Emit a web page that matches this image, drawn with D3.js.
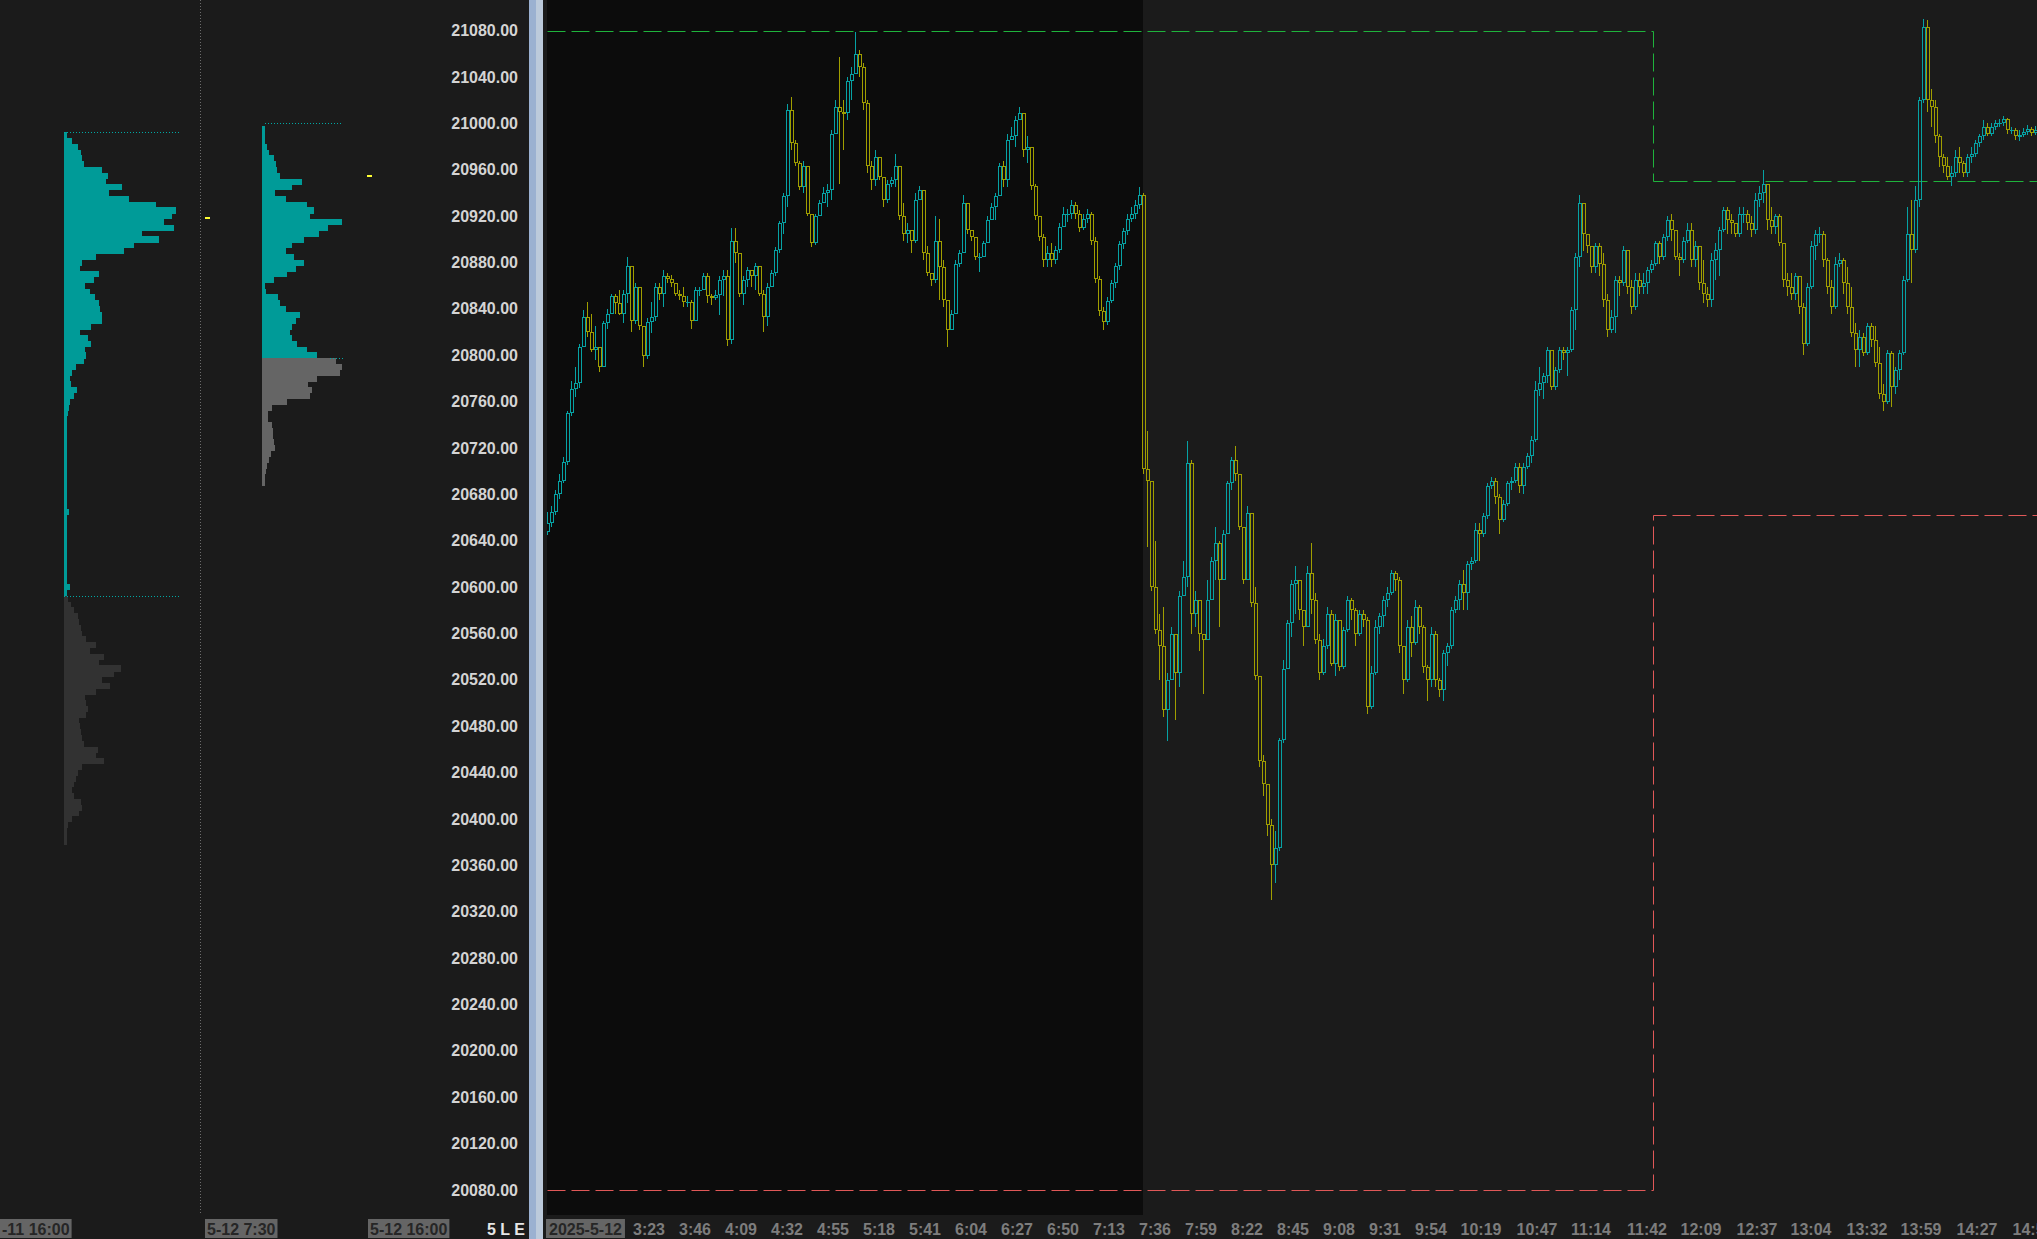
<!DOCTYPE html>
<html><head><meta charset="utf-8">
<script src="https://cdn.jsdelivr.net/npm/d3@7"></script>
<style>html,body{margin:0;padding:0;background:#1b1b1b;overflow:hidden}svg{display:block}text{font-family:"Liberation Sans",Arial,sans-serif;font-weight:bold}</style>
</head><body><svg id="c" width="2037" height="1239"></svg>
<script>
// ---------- DATA ----------
const priceTicks = [21080,21040,21000,20960,20920,20880,20840,20800,20760,20720,20680,20640,20600,20560,20520,20480,20440,20400,20360,20320,20280,20240,20200,20160,20120,20080];
const timeTicks = ["3:23","3:46","4:09","4:32","4:55","5:18","5:41","6:04","6:27","6:50","7:13","7:36","7:59","8:22","8:45","9:08","9:31","9:54","10:19","10:47","11:14","11:42","12:09","12:37","13:04","13:32","13:59","14:27","14:55"];
const dateLabel = "2025-5-12";
const barStart = "2:32";
const barStepMin = 2;
const firstOpen = 20648;
const closes = [20655,20665,20680,20692,20708,20750,20771,20776,20807,20833,20820,20805,20807,20790,20828,20836,20851,20845,20836,20853,20877,20830,20859,20825,20799,20829,20833,20859,20853,20868,20866,20862,20853,20851,20846,20846,20830,20856,20856,20868,20851,20849,20852,20865,20868,20813,20899,20888,20853,20865,20874,20868,20877,20853,20833,20859,20871,20891,20914,20937,21012,20983,20966,20945,20963,20922,20897,20920,20931,20940,20943,20991,21014,21010,21009,21037,21043,21060,21049,21018,20963,20951,20971,20954,20934,20948,20951,20963,20920,20905,20908,20899,20934,20943,20888,20871,20865,20899,20876,20848,20822,20836,20879,20888,20931,20908,20902,20885,20885,20897,20917,20928,20937,20963,20951,20986,20989,21003,21009,20977,20980,20946,20920,20902,20882,20888,20882,20891,20911,20922,20922,20930,20922,20910,20918,20922,20899,20866,20838,20829,20847,20862,20877,20896,20907,20918,20922,20930,20938,20702,20692,20600,20563,20549,20494,20520,20560,20526,20592,20609,20707,20577,20589,20560,20554,20589,20623,20638,20606,20646,20690,20710,20698,20652,20606,20664,20586,20523,20450,20430,20395,20360,20375,20468,20529,20569,20603,20606,20580,20566,20612,20589,20554,20526,20549,20577,20534,20572,20531,20563,20589,20580,20560,20577,20572,20497,20526,20566,20575,20589,20595,20612,20606,20549,20520,20566,20552,20583,20566,20531,20520,20560,20520,20511,20543,20549,20580,20589,20603,20595,20620,20623,20649,20646,20661,20687,20692,20678,20658,20672,20690,20692,20704,20687,20704,20713,20727,20770,20776,20782,20805,20773,20787,20805,20802,20805,20839,20885,20931,20905,20894,20876,20894,20879,20848,20822,20833,20865,20862,20891,20859,20842,20865,20859,20862,20874,20879,20897,20885,20902,20917,20908,20885,20882,20899,20908,20882,20894,20862,20853,20848,20882,20891,20908,20925,20917,20914,20905,20922,20922,20914,20908,20934,20940,20948,20917,20911,20920,20897,20865,20859,20853,20868,20842,20810,20859,20894,20905,20905,20882,20859,20842,20879,20882,20862,20842,20819,20805,20816,20802,20825,20813,20793,20767,20760,20802,20773,20787,20802,20865,20905,20891,20934,21020,21083,21020,21014,20989,20971,20963,20954,20957,20971,20966,20957,20971,20974,20983,20989,20997,20991,20997,21000,21000,21004,20994,20994,20989,20990,20993,20995,20992,20994];
const highs = [20665,20670,20684,20698,20712,20752,20778,20790,20810,20839,20846,20836,20825,20805,20830,20840,20853,20853,20856,20856,20885,20868,20862,20858,20822,20832,20846,20862,20862,20874,20871,20869,20861,20856,20859,20851,20848,20859,20859,20871,20871,20853,20856,20868,20874,20874,20910,20910,20880,20868,20876,20871,20880,20862,20856,20862,20874,20893,20916,20940,21017,21023,20986,20968,20968,20963,20920,20922,20934,20945,20948,20994,21020,21057,21020,21040,21049,21079,21063,21052,21020,20968,20977,20968,20945,20951,20954,20974,20943,20931,20914,20908,20940,20946,20940,20894,20871,20920,20918,20882,20842,20839,20882,20891,20938,20925,20908,20899,20888,20899,20920,20931,20940,20966,20968,20991,20997,21006,21014,20994,20989,20963,20948,20914,20905,20894,20897,20894,20914,20928,20926,20934,20932,20925,20922,20926,20924,20902,20868,20842,20850,20865,20880,20899,20910,20922,20928,20934,20945,20940,20735,20666,20640,20577,20583,20526,20566,20534,20597,20623,20726,20710,20597,20580,20560,20606,20626,20652,20640,20649,20692,20712,20722,20698,20649,20670,20646,20600,20523,20455,20430,20400,20390,20470,20537,20572,20606,20618,20597,20577,20618,20638,20595,20560,20555,20583,20580,20577,20572,20566,20592,20591,20582,20580,20580,20574,20532,20572,20578,20592,20600,20615,20614,20609,20549,20572,20575,20589,20585,20567,20533,20566,20562,20522,20546,20552,20583,20592,20606,20615,20623,20626,20655,20655,20664,20690,20695,20694,20680,20675,20692,20695,20707,20707,20707,20716,20730,20778,20790,20785,20807,20805,20790,20807,20807,20807,20842,20888,20938,20931,20905,20894,20897,20897,20888,20853,20839,20868,20868,20894,20891,20865,20871,20871,20871,20876,20882,20899,20899,20905,20920,20922,20908,20888,20902,20914,20914,20899,20894,20882,20859,20888,20897,20911,20928,20928,20922,20914,20928,20928,20925,20920,20940,20946,20960,20948,20928,20922,20922,20897,20871,20871,20871,20868,20845,20862,20899,20908,20911,20907,20884,20865,20885,20888,20884,20876,20859,20828,20822,20819,20828,20828,20825,20807,20775,20805,20804,20790,20805,20868,20928,20934,20946,21023,21090,21089,21030,21020,20991,20974,20971,20963,20977,20980,20968,20974,20980,20986,20991,21003,21000,21000,21003,21004,21006,21005,20997,20996,20994,20996,20999,20997,20998];
const lows = [20645,20652,20662,20676,20690,20705,20748,20764,20772,20810,20816,20803,20796,20786,20790,20823,20836,20836,20835,20828,20845,20820,20827,20822,20790,20797,20819,20830,20848,20842,20862,20859,20851,20848,20842,20842,20823,20830,20851,20859,20845,20843,20848,20835,20851,20808,20810,20880,20850,20843,20859,20859,20856,20851,20820,20825,20859,20868,20888,20905,20928,20977,20963,20943,20940,20920,20893,20895,20920,20934,20928,20934,20994,20948,20977,21003,21020,21049,21040,21012,20957,20943,20946,20951,20928,20931,20945,20945,20917,20899,20897,20888,20897,20934,20882,20868,20860,20862,20848,20842,20807,20825,20853,20876,20905,20905,20899,20882,20872,20885,20899,20920,20917,20937,20945,20945,20986,20980,21006,20971,20966,20943,20917,20899,20876,20876,20876,20879,20888,20911,20915,20918,20918,20906,20908,20914,20895,20862,20834,20822,20826,20845,20858,20874,20892,20904,20915,20918,20926,20698,20635,20597,20560,20520,20488,20467,20520,20485,20514,20592,20600,20560,20566,20545,20508,20554,20603,20606,20566,20606,20650,20684,20692,20649,20603,20606,20583,20520,20445,20420,20385,20330,20345,20372,20466,20549,20557,20577,20572,20549,20566,20577,20551,20520,20524,20547,20532,20523,20528,20529,20561,20572,20549,20558,20566,20491,20495,20524,20560,20566,20583,20593,20597,20543,20508,20518,20540,20550,20560,20526,20502,20514,20514,20505,20502,20532,20547,20578,20580,20580,20580,20615,20621,20623,20643,20659,20685,20672,20646,20656,20670,20684,20690,20681,20680,20702,20707,20725,20765,20762,20776,20770,20770,20785,20796,20782,20803,20822,20876,20890,20888,20871,20871,20868,20842,20816,20819,20819,20851,20860,20853,20836,20839,20853,20853,20853,20871,20877,20879,20882,20899,20899,20882,20868,20880,20897,20876,20876,20856,20845,20842,20842,20865,20868,20906,20905,20905,20902,20902,20914,20908,20902,20905,20928,20931,20908,20905,20905,20894,20859,20851,20848,20848,20836,20800,20808,20857,20882,20897,20876,20853,20836,20840,20876,20853,20836,20816,20790,20790,20799,20800,20807,20790,20762,20752,20758,20755,20767,20779,20800,20863,20862,20888,20928,21018,21010,20997,20983,20962,20957,20951,20946,20954,20957,20954,20954,20966,20971,20980,20986,20989,20989,20994,20997,20998,20991,20991,20986,20985,20988,20990,20989,20990];

// volume profiles (relative volume per 5-point row, top row first)
const profile1Top = 20992.5, profile1Split = 20592.5;
const profile1Vol = [3,8,14,17,18,20,38,44,42,58,45,65,92,112,108,100,110,78,95,70,60,32,18,16,35,30,21,26,31,35,36,38,38,27,16,24,27,21,22,20,12,8,6,7,13,10,6,5,4,
 3,3,3,3,3,3,3,3,3,3,3,3,3,3,3,3,5,3,3,3,3,3,3,3,3,3,3,3,3,6,3,
 4,7,10,14,15,17,18,22,32,26,40,35,57,50,38,46,32,21,22,24,22,15,16,17,18,20,34,32,40,18,14,12,10,8,10,17,18,15,8,4,3,3,3];
const profile2Top = 20997.5, profile2Split = 20797.5;
const profile2Vol = [3,3,3,5,7,12,14,15,18,40,30,13,24,45,52,48,80,66,57,42,30,24,32,42,34,25,12,3,4,16,18,24,38,34,30,28,30,35,45,55,
 74,80,78,55,46,50,48,25,10,6,6,10,11,11,12,13,9,7,5,4,3,3];
const profileStep = 5;
const profileLabels = [{text:"-11 16:00", left:0},{text:"5-12 7:30", left:205},{text:"5-12 16:00", left:368}];
const profileMarks = [{price:20919, x:205},{price:20955.5, x:367}];

// previous-session reference levels
const preMarketEnd = "7:30";
const levelStep = "11:45";
const highLevel = [21080, 20950];
const lowLevel = [20080, 20662];

// ---------- HELPERS ----------
const toMin = s => { const [h,m] = s.split(":").map(Number); return h*60+m; };
const svg = d3.select("#c");
const W = 2037, H = 1239, plotL = 547, plotR = 2037, plotB = 1215;
const y = d3.scaleLinear().domain([20080, 21080]).range([1190, 30.7]);
const x = d3.scaleLinear().domain([toMin("3:23"), toMin("14:27")]).range([649, 1977]);
const vol = d3.scaleLinear().domain([0, 100]).range([0, 100]);

svg.append("rect").attr("width", W).attr("height", H).attr("fill", "#1b1b1b");

// ---------- LEFT PROFILES ----------
const gP = svg.append("g");
function drawProfile(top, split, vals, baseX, colTop, colBot) {
  vals.forEach((v, k) => {
    const pHi = top - k*profileStep, pLo = pHi - profileStep;
    const y0 = y(pHi), y1 = y(pLo);
    gP.append("rect").attr("x", baseX).attr("y", y0).attr("width", vol(v)).attr("height", y1 - y0 + 0.3)
      .attr("fill", pHi > split ? colTop : colBot).attr("shape-rendering", "crispEdges");
  });
}
drawProfile(profile1Top, profile1Split, profile1Vol, 64, "#009b98", "#323232");
drawProfile(profile2Top, profile2Split, profile2Vol, 262, "#009b98", "#656565");
const dot = (x1, x2, p) => gP.append("line").attr("x1", x1).attr("x2", x2).attr("y1", Math.round(y(p))+0.5).attr("y2", Math.round(y(p))+0.5)
  .attr("stroke", "#00a8a4").attr("stroke-dasharray", "1,2");
dot(64, 181, profile1Top); dot(64, 181, profile1Split);
dot(265, 343, profile2Top+2.5); dot(330, 343, profile2Split);
profileMarks.forEach(m => gP.append("rect").attr("x", m.x).attr("y", Math.round(y(m.price))).attr("width", 5).attr("height", 2).attr("fill", "#ffff33"));
svg.append("line").attr("x1", 200.5).attr("x2", 200.5).attr("y1", 0).attr("y2", 1213).attr("stroke", "#6c6c6c").attr("stroke-dasharray", "1,2");

// ---------- PRICE AXIS ----------
svg.selectAll(".yl").data(priceTicks).enter().append("text")
  .attr("x", 518).attr("y", d => y(d) + 5.5).attr("text-anchor", "end")
  .attr("font-size", 16).attr("fill", "#d4d4d4").text(d => d.toFixed(2));

// blue separator
svg.append("rect").attr("x", 529).attr("y", 0).attr("width", 7).attr("height", H).attr("fill", "#9bb1d1");
svg.append("rect").attr("x", 536).attr("y", 0).attr("width", 7).attr("height", H).attr("fill", "#bccadb");

// ---------- MAIN PLOT ----------
svg.append("defs").append("clipPath").attr("id", "clip").append("rect")
  .attr("x", plotL).attr("y", 0).attr("width", plotR - plotL).attr("height", plotB);
const g = svg.append("g").attr("clip-path", "url(#clip)");
const t0 = toMin(barStart);
g.append("rect").attr("x", plotL).attr("y", 0).attr("width", x(toMin(preMarketEnd)) - plotL).attr("height", plotB).attr("fill", "#0c0c0c");

// level lines
const tEnd = t0 + closes.length*barStepMin + 10;
const stepLine = d3.line().x(d => Math.round(x(d[0])) + 0.5).y(d => Math.round(y(d[1])) + 0.5).curve(d3.curveStepAfter);
g.append("path").attr("d", stepLine([[t0, highLevel[0]], [toMin(levelStep), highLevel[1]], [tEnd, highLevel[1]]]))
  .attr("fill", "none").attr("stroke", "#1fb33c").attr("stroke-dasharray", "18,6");
g.append("path").attr("d", stepLine([[t0, lowLevel[0]], [toMin(levelStep), lowLevel[1]], [tEnd, lowLevel[1]]]))
  .attr("fill", "none").attr("stroke", "#e05858").attr("stroke-dasharray", "18,6");

// candles (hollow)
const bars = closes.map((c, i) => ({ t: t0 + i*barStepMin, o: i ? closes[i-1] : firstOpen, c, h: highs[i], l: lows[i] }));
const up = "#06a2a4", dn = "#a09e00";
bars.forEach(b => {
  const cx = Math.round(x(b.t + barStepMin/2));
  const col = b.c >= b.o ? up : dn;
  const yTop = Math.round(y(Math.max(b.o, b.c))), yBot = Math.round(y(Math.min(b.o, b.c)));
  const yH = Math.round(y(b.h)), yL = Math.round(y(b.l));
  const wx = cx - 1.5;
  if (yH < yTop) g.append("line").attr("x1", wx).attr("x2", wx).attr("y1", yH).attr("y2", yTop).attr("stroke", col);
  if (yL > yBot) g.append("line").attr("x1", wx).attr("x2", wx).attr("y1", yBot).attr("y2", yL).attr("stroke", col);
  if (yBot - yTop < 2) {
    g.append("rect").attr("x", cx - 3).attr("y", yTop).attr("width", 4).attr("height", Math.max(1, yBot - yTop + 1)).attr("fill", col);
  } else {
    g.append("rect").attr("x", cx - 2.5).attr("y", yTop + 0.5).attr("width", 3).attr("height", yBot - yTop - 1)
      .attr("fill", "none").attr("stroke", col);
  }
});

// ---------- TIME AXIS ----------
const dl = svg.append("g");
const dtext = dl.append("text").attr("x", plotL + 2).attr("y", 1235).attr("font-size", 16).attr("fill", "#262626").text(dateLabel);
const dw = dtext.node().getComputedTextLength();
dl.insert("rect", "text").attr("x", plotL - 1).attr("y", 1219).attr("width", dw + 6).attr("height", 19).attr("fill", "#656565");
svg.selectAll(".tl").data(timeTicks).enter().append("text")
  .attr("x", d => x(toMin(d))).attr("y", 1235).attr("text-anchor", "middle")
  .attr("font-size", 16).attr("fill", "#7d7d7d").text(d => d);

// profile time labels
profileLabels.forEach(p => {
  const gg = svg.append("g");
  const t = gg.append("text").attr("y", 1235).attr("font-size", 16).attr("fill", "#262626").text(p.text);
  const w = t.node().getComputedTextLength();
  t.attr("x", p.left + 2);
  gg.insert("rect", "text").attr("x", p.left).attr("y", 1219).attr("width", w + 4).attr("height", 19).attr("fill", "#656565");
});
svg.append("text").attr("x", 487).attr("y", 1235).attr("font-size", 16).attr("fill", "#e6e6e6").text("5 L E");
</script></body></html>
